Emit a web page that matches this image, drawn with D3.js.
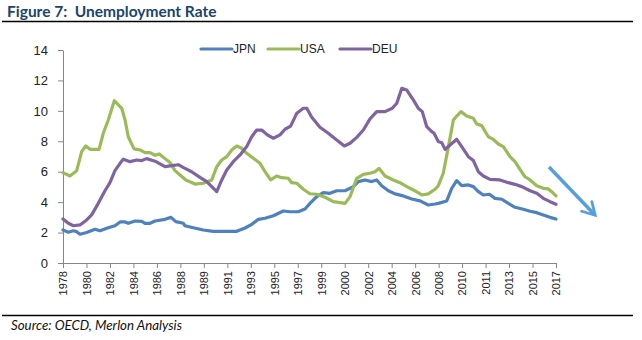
<!DOCTYPE html>
<html>
<head>
<meta charset="utf-8">
<script src="https://cdn.jsdelivr.net/npm/d3@7"></script>
<style>
  body { margin: 0; background: #fff; }
  .axis path, .axis line { stroke: #868686; }
  .axis text { fill: #222; }
</style>
</head>
<body>
<script>
'use strict';

// labels on the category axis, one every 22 months from Nov 1978
const xLabels = ["1978", "1980", "1982", "1984", "1986", "1988", "1989", "1991", "1993", "1995", "1997",
                 "1999", "2000", "2002", "2004", "2006", "2008", "2010", "2011", "2013", "2015", "2017"];
const startYear = 1978 + 10 / 12;
const labelStep = 22 / 12;

const yTicks = [0, 2, 4, 6, 8, 10, 12, 14];

const seriesNames = ["JPN", "USA", "DEU"];
const seriesColors = ["#4f81bd", "#9bbb59", "#8064a2"];

// [decimal year, rate %]
const jpn = [
  [1978.83, 2.17], [1979.25, 2.02], [1979.64, 2.12], [1979.90, 2.06], [1980.16, 1.89], [1980.68, 2.00],
  [1981.33, 2.22], [1981.72, 2.12], [1982.37, 2.32], [1982.89, 2.45], [1983.29, 2.70], [1983.68, 2.70],
  [1983.93, 2.61], [1984.46, 2.76], [1984.98, 2.74], [1985.24, 2.61], [1985.63, 2.61], [1986.02, 2.76],
  [1986.80, 2.87], [1987.27, 3.00], [1987.64, 2.72], [1988.23, 2.61], [1988.36, 2.45], [1989.01, 2.32],
  [1989.79, 2.17], [1990.57, 2.08], [1991.35, 2.08], [1992.40, 2.08], [1993.05, 2.30], [1993.57, 2.54],
  [1994.09, 2.87], [1994.61, 2.94], [1995.26, 3.11], [1996.04, 3.42], [1996.56, 3.37], [1997.21, 3.37],
  [1997.73, 3.55], [1998.12, 3.92], [1998.65, 4.36], [1999.16, 4.62], [1999.69, 4.58], [2000.21, 4.75],
  [2000.86, 4.75], [2001.51, 5.02], [2001.90, 5.35], [2002.42, 5.46], [2002.94, 5.35], [2003.33, 5.46],
  [2003.72, 5.08], [2004.24, 4.75], [2004.76, 4.54], [2005.41, 4.41], [2006.07, 4.21], [2006.72, 4.08],
  [2007.36, 3.81], [2007.89, 3.88], [2008.14, 3.92], [2008.80, 4.08], [2009.19, 4.91], [2009.58, 5.41],
  [2009.97, 5.08], [2010.49, 5.13], [2010.88, 5.02], [2011.27, 4.69], [2011.66, 4.47], [2012.13, 4.52],
  [2012.57, 4.25], [2013.10, 4.19], [2013.61, 3.92], [2014.13, 3.66], [2014.78, 3.53], [2015.31, 3.40],
  [2015.83, 3.31], [2016.34, 3.16], [2016.87, 3.00], [2017.33, 2.89]
];

const usa = [
  [1978.83, 5.94], [1979.38, 5.72], [1979.90, 6.07], [1980.29, 7.32], [1980.61, 7.69], [1980.94, 7.47],
  [1981.65, 7.47], [1981.98, 8.53], [1982.37, 9.40], [1982.84, 10.67], [1983.42, 10.17], [1983.68, 9.40],
  [1983.93, 8.30], [1984.38, 7.50], [1984.85, 7.43], [1985.24, 7.25], [1985.63, 7.25], [1986.02, 7.08],
  [1986.35, 7.17], [1986.80, 6.86], [1987.19, 6.60], [1987.58, 6.07], [1987.97, 5.79], [1988.43, 5.46],
  [1989.14, 5.19], [1989.79, 5.24], [1990.45, 5.46], [1990.84, 6.33], [1991.23, 6.77], [1991.62, 6.99],
  [1992.01, 7.43], [1992.40, 7.69], [1992.79, 7.54], [1993.18, 7.21], [1993.70, 6.88], [1994.22, 6.55],
  [1994.61, 6.00], [1995.05, 5.46], [1995.52, 5.72], [1995.91, 5.61], [1996.43, 5.57], [1996.69, 5.28],
  [1997.09, 5.24], [1997.60, 4.85], [1998.12, 4.55], [1998.65, 4.52], [1999.30, 4.32], [1999.94, 4.03],
  [2000.47, 3.97], [2000.86, 3.92], [2001.25, 4.36], [2001.77, 5.57], [2002.29, 5.83], [2002.81, 5.90],
  [2003.20, 6.00], [2003.51, 6.22], [2003.98, 5.72], [2004.63, 5.46], [2005.15, 5.28], [2005.68, 5.02],
  [2006.19, 4.80], [2006.85, 4.47], [2007.36, 4.54], [2007.89, 4.85], [2008.14, 5.08], [2008.53, 5.90],
  [2008.93, 7.65], [2009.32, 9.40], [2009.58, 9.66], [2009.92, 9.95], [2010.36, 9.66], [2010.88, 9.51],
  [2011.14, 9.14], [2011.53, 9.03], [2012.05, 8.30], [2012.44, 8.13], [2012.83, 7.82], [2013.22, 7.65],
  [2013.74, 6.99], [2014.13, 6.66], [2014.52, 6.16], [2014.91, 5.67], [2015.31, 5.46], [2015.83, 5.08],
  [2016.34, 4.91], [2016.74, 4.87], [2017.00, 4.69], [2017.33, 4.41]
];

const deu = [
  [1978.83, 2.89], [1979.25, 2.61], [1979.64, 2.45], [1980.16, 2.50], [1980.68, 2.83], [1981.07, 3.16],
  [1981.59, 3.92], [1982.11, 4.75], [1982.50, 5.28], [1982.89, 6.07], [1983.29, 6.55], [1983.54, 6.82],
  [1984.07, 6.66], [1984.59, 6.77], [1984.98, 6.73], [1985.37, 6.86], [1986.02, 6.69], [1986.80, 6.33],
  [1987.19, 6.38], [1987.84, 6.46], [1988.25, 6.27], [1988.88, 6.00], [1989.53, 5.63], [1990.06, 5.35],
  [1990.45, 5.02], [1990.84, 4.69], [1991.23, 5.46], [1991.62, 6.11], [1992.13, 6.66], [1992.66, 7.10],
  [1993.18, 7.65], [1993.57, 8.30], [1993.96, 8.74], [1994.35, 8.74], [1994.79, 8.42], [1995.26, 8.20],
  [1995.78, 8.42], [1996.17, 8.79], [1996.61, 9.00], [1997.09, 9.84], [1997.60, 10.17], [1997.87, 10.17],
  [1998.26, 9.58], [1998.90, 8.92], [1999.55, 8.53], [2000.21, 8.09], [2000.80, 7.69], [2001.25, 7.87],
  [2001.77, 8.26], [2002.29, 8.74], [2002.81, 9.47], [2003.33, 9.95], [2003.98, 9.95], [2004.55, 10.17],
  [2004.90, 10.50], [2005.29, 11.48], [2005.68, 11.37], [2006.19, 10.72], [2006.58, 10.17], [2006.89, 9.95],
  [2007.24, 8.96], [2007.63, 8.63], [2007.81, 8.53], [2008.14, 7.98], [2008.41, 7.91], [2008.67, 7.47],
  [2009.06, 7.76], [2009.58, 8.13], [2009.97, 7.65], [2010.49, 6.99], [2010.88, 6.73], [2011.27, 6.00],
  [2011.66, 5.72], [2012.18, 5.50], [2012.96, 5.46], [2013.61, 5.28], [2014.13, 5.17], [2014.66, 5.02],
  [2015.31, 4.75], [2015.83, 4.58], [2016.34, 4.25], [2016.87, 4.03], [2017.33, 3.86]
];

function createLineChart(width, height) {
    let svg = d3.create("svg")
        .attr("width", width)
        .attr("height", height)
        .style("display", "block");

    // title + rules
    svg.append("text")
        .attr("x", 7)
        .attr("y", 17)
        .style("font-family", "Lato, 'Open Sans', sans-serif")
        .style("font-weight", "bold")
        .style("font-size", "15.5px")
        .style("white-space", "pre")
        .style("fill", "#1a4469")
        .text("Figure 7:  Unemployment Rate");

    svg.append("line")
        .attr("x1", 2).attr("x2", 633)
        .attr("y1", 21.5).attr("y2", 21.5)
        .attr("stroke", "#000").attr("stroke-width", 1.3);

    svg.append("line")
        .attr("x1", 2).attr("x2", 633)
        .attr("y1", 315.5).attr("y2", 315.5)
        .attr("stroke", "#000").attr("stroke-width", 1.3);

    svg.append("text")
        .attr("x", 11)
        .attr("y", 330)
        .style("font-family", "Lato, 'Open Sans', sans-serif")
        .style("font-style", "italic")
        .style("font-size", "13.3px")
        .style("fill", "#111")
        .text("Source: OECD, Merlon Analysis");

    let x = d3.scaleLinear()
        .domain([startYear, startYear + labelStep * (xLabels.length - 1)])
        .range([63, 556]);

    let y = d3.scaleLinear()
        .domain([0, 14])
        .range([263, 50]);

    let g = svg.append("g");

    g.append("g")
        .attr("class", "axis")
        .attr("transform", "translate(63,0)")
        .call(d3.axisLeft(y).tickValues(yTicks).tickSize(5).tickSizeOuter(0).tickPadding(10))
        .call(a => a.selectAll("text")
            .style("font-family", "'Liberation Sans', Arial, sans-serif")
            .style("font-size", "13px"));

    let xAxis = d3.axisBottom(x)
        .tickValues(xLabels.map((d, i) => startYear + i * labelStep))
        .tickFormat((d, i) => xLabels[i])
        .tickSize(5)
        .tickSizeOuter(0);

    g.append("g")
        .attr("class", "axis")
        .attr("transform", "translate(0,263)")
        .call(xAxis)
        .call(a => a.selectAll("text")
            .style("font-family", "'Liberation Sans', Arial, sans-serif")
            .style("font-size", "11px")
            .attr("transform", "rotate(-90)")
            .attr("text-anchor", "end")
            .attr("x", -8)
            .attr("y", 0)
            .attr("dy", "0.35em"));

    let line = d3.line()
        .x(d => x(d[0]))
        .y(d => y(d[1]));

    [jpn, usa, deu].forEach(function(s, i) {
        g.append("path")
            .datum(s)
            .attr("fill", "none")
            .attr("stroke", seriesColors[i])
            .attr("stroke-width", 3.2)
            .attr("stroke-linejoin", "round")
            .attr("stroke-linecap", "round")
            .attr("d", line);
    });

    // legend
    let legendX = [201, 268, 340];
    let legend = svg.append("g");
    seriesNames.forEach(function(name, i) {
        legend.append("line")
            .attr("x1", legendX[i]).attr("x2", legendX[i] + 31)
            .attr("y1", 49).attr("y2", 49)
            .attr("stroke", seriesColors[i])
            .attr("stroke-width", 3.2)
            .attr("stroke-linecap", "round");
        legend.append("text")
            .attr("x", legendX[i] + 32)
            .attr("y", 53)
            .style("font-family", "'Liberation Sans', Arial, sans-serif")
            .style("font-size", "12px")
            .style("fill", "#222")
            .text(name);
    });

    // downward arrow annotation
    svg.append("defs").append("marker")
        .attr("id", "head")
        .attr("viewBox", "0 0 10 10")
        .attr("refX", 7).attr("refY", 5)
        .attr("markerWidth", 5).attr("markerHeight", 5)
        .attr("orient", "auto")
        .append("path")
        .attr("d", "M1,1 L8,5 L1,9")
        .attr("fill", "none")
        .attr("stroke", "#55a0dc")
        .attr("stroke-width", 1.6)
        .attr("stroke-linecap", "round");

    svg.append("line")
        .attr("x1", 549).attr("y1", 167)
        .attr("x2", 594).attr("y2", 214)
        .attr("stroke", "#55a0dc")
        .attr("stroke-width", 3.5)
        .attr("marker-end", "url(#head)");

    d3.select("body").append(() => svg.node());
    return svg.node();
}

createLineChart(642, 340);
</script>
</body>
</html>
